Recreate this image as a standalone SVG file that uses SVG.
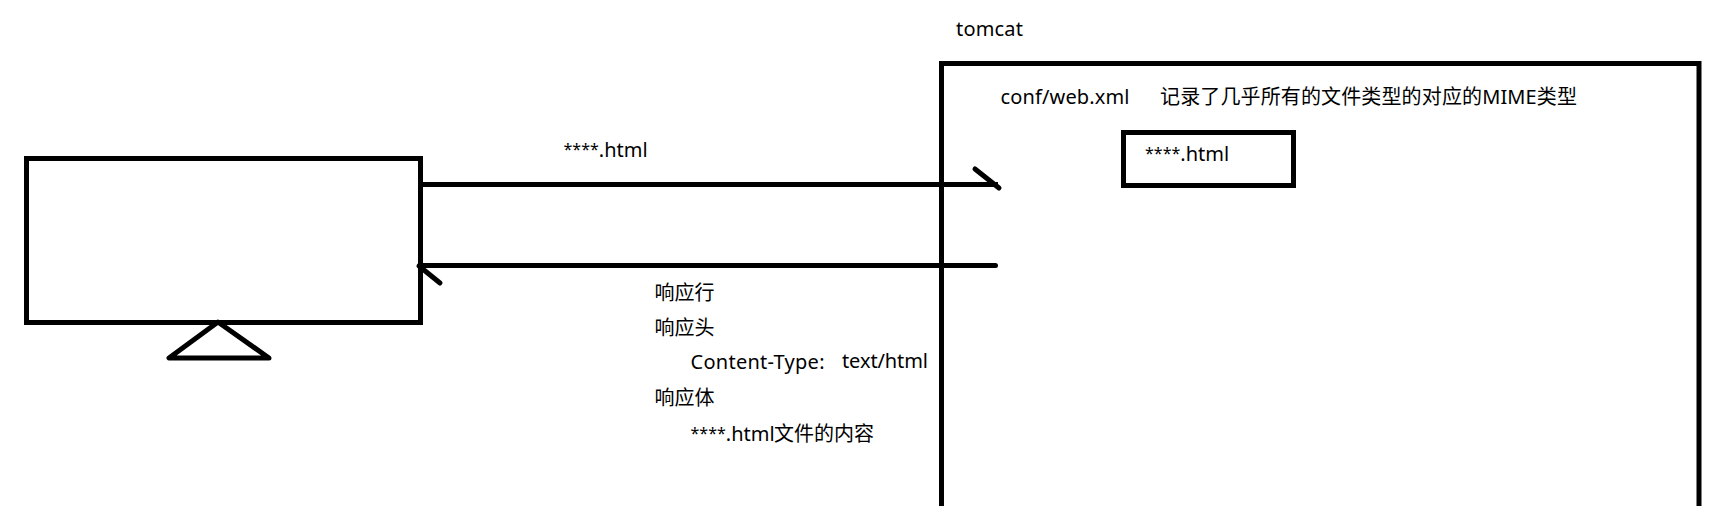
<svg xmlns="http://www.w3.org/2000/svg" width="1727" height="506" viewBox="0 0 1727 506">
<style>
.s{fill:none;stroke:#000;stroke-width:5}
.c{fill:none;stroke:#000;stroke-width:5;stroke-linecap:round}
text{font-family:"Noto Sans","Noto Sans CJK SC",sans-serif;font-size:20px;fill:#000}
.a{font-size:16px}
</style>
<rect width="1727" height="506" fill="#fff"/>
<g id="client">
<rect class="s" x="26.500" y="158.500" width="394" height="164"/>
<path class="c" d="M218 322 L169 358 H269 Z" stroke-linejoin="round"/>
</g>
<g id="tomcat">
<path class="s" d="M941.500 506 V63.500 H1699 V506"/>
<text x="956" y="36" textLength="67">tomcat</text>
<text x="1000.500" y="104" textLength="129">conf/web.xml</text>
<text x="1160" y="104" textLength="417">记录了几乎所有的文件类型的对应的MIME类型</text>
</g>
<g id="html-file">
<rect class="s" x="1123.500" y="132.500" width="170" height="53"/>
<text x="1145" y="161"><tspan class="a" dy="-2">****</tspan><tspan dy="2">.html</tspan></text>
</g>
<g id="connectors">
<path class="c" style="stroke-linecap:butt" d="M423 184.500 H998"/>
<path class="c" d="M975 169 L999 188"/>
<path class="c" d="M995.500 265.500 H420"/>
<path class="c" d="M419 266 L440 283"/>
</g>
<g id="labels">
<text x="563.500" y="157"><tspan class="a" dy="-2">****</tspan><tspan dy="2">.html</tspan></text>
<text x="654.500" y="300">响应行</text>
<text x="654.500" y="335">响应头</text>
<text x="690.500" y="369" textLength="134">Content-Type:</text>
<text x="842" y="368" textLength="86">text/html</text>
<text x="654.500" y="405">响应体</text>
<text x="690.500" y="441"><tspan class="a" dy="-2">****</tspan><tspan dy="2">.html</tspan><tspan x="774">文件的内容</tspan></text>
</g>
</svg>
